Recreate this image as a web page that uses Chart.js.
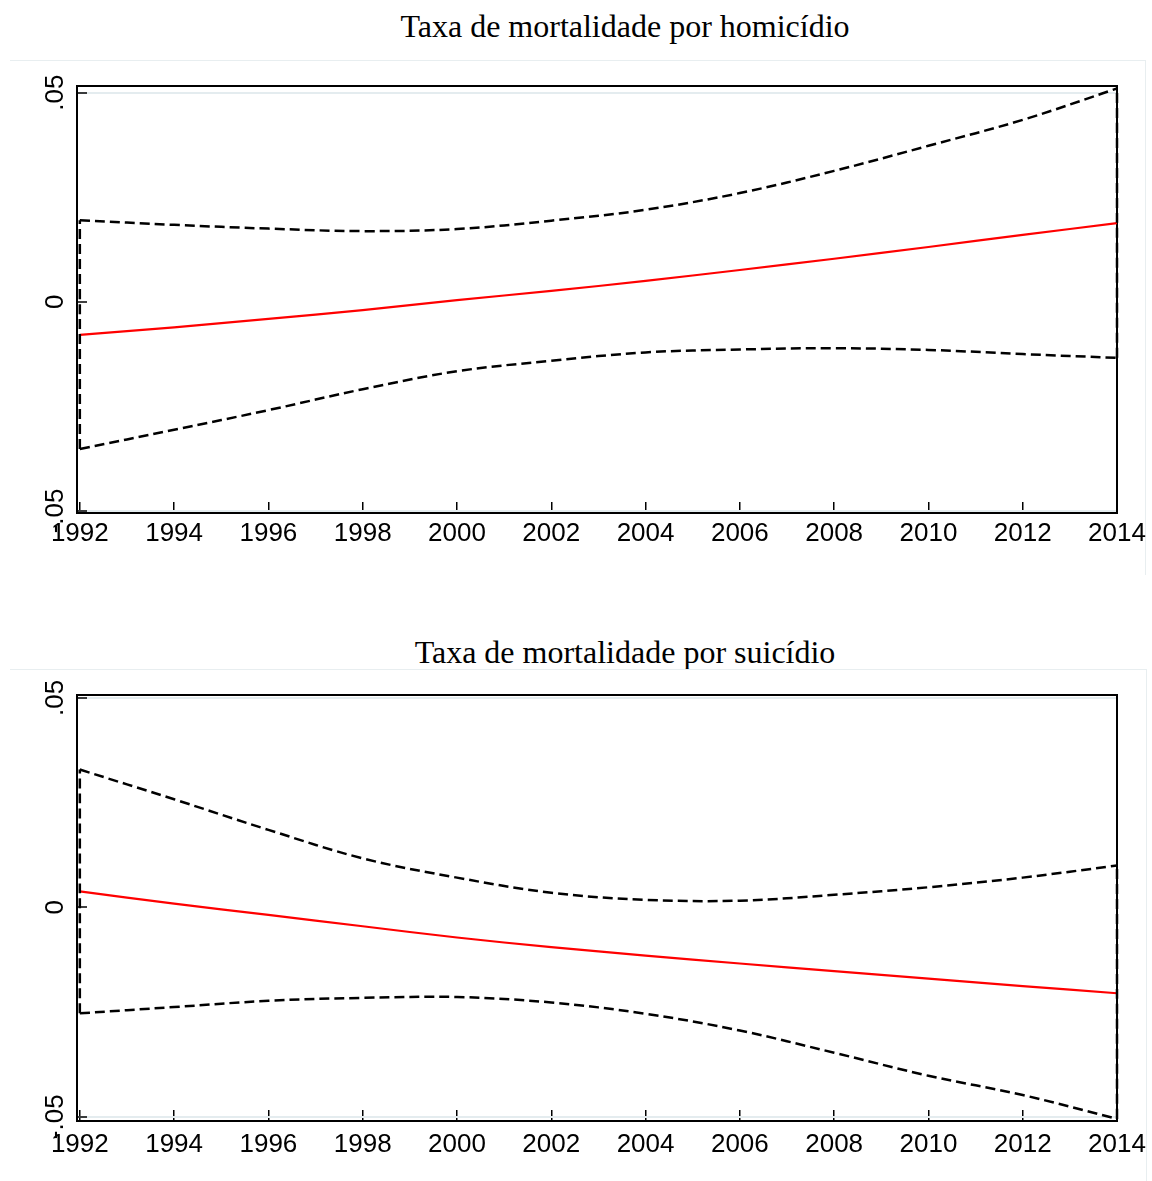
<!DOCTYPE html>
<html>
<head>
<meta charset="utf-8">
<script src="https://cdn.jsdelivr.net/npm/chart.js@4.4.1/dist/chart.umd.min.js"></script>
<style>
  body { margin: 0; background: #fff; width: 1152px; height: 1181px; position: relative; overflow: hidden; }
  .title { position: absolute; left: 0; width: 1250px; text-align: center; line-height: 32px;
           font-family: "Liberation Serif", "Times New Roman", serif; font-size: 32px; color: #000; }
  .frame { position: absolute; border-top: 1px solid #e8eef0; border-right: 1px solid #e8eef0; box-sizing: border-box; }
  .panel { position: absolute; left: 0; width: 1152px; }
</style>
</head>
<body>
<div class="title" style="top:10px">Taxa de mortalidade por homicídio</div>
<div class="frame" style="left:10px; top:60px; width:1136px; height:515px"></div>
<div class="panel" style="top:60px; height:515px"><canvas id="chart1"></canvas></div>

<div class="title" style="top:636px">Taxa de mortalidade por suicídio</div>
<div class="frame" style="left:10px; top:669px; width:1137px; height:512px"></div>
<div class="panel" style="top:669px; height:512px"><canvas id="chart2"></canvas></div>

<script>
const years = [1992, 1994, 1996, 1998, 2000, 2002, 2004, 2006, 2008, 2010, 2012, 2014];

// homicídio
const homEst   = [-0.0079, -0.0061, -0.0041, -0.0020, 0.0004, 0.0026, 0.0050, 0.0076, 0.0103, 0.0131, 0.0160, 0.0188];
const homUpper = [0.0195, 0.0184, 0.0175, 0.0169, 0.0174, 0.0194, 0.0220, 0.0260, 0.0313, 0.0373, 0.0435, 0.0510];
const homLower = [-0.0352, -0.0306, -0.0259, -0.0209, -0.0166, -0.0141, -0.0121, -0.0114, -0.0111, -0.0115, -0.0125, -0.0134];

// suicídio
const suiEst   = [0.0038, 0.0009, -0.0018, -0.0045, -0.0072, -0.0095, -0.0115, -0.0134, -0.0152, -0.0170, -0.0188, -0.0205];
const suiUpper = [0.0329, 0.0258, 0.0185, 0.0117, 0.0071, 0.0035, 0.0018, 0.0016, 0.0030, 0.0048, 0.0071, 0.0100];
const suiLower = [-0.0253, -0.0238, -0.0223, -0.0216, -0.0214, -0.0227, -0.0254, -0.0294, -0.0347, -0.0402, -0.0448, -0.0505];

const xTicks = [1992, 1994, 1996, 1998, 2000, 2002, 2004, 2006, 2008, 2010, 2012, 2014];
const yTicks = [-0.05, 0, 0.05];
const yTickLabels = ['-.05', '0', '.05'];

const tickFont = { family: "'Liberation Sans', Arial, sans-serif", size: 26 };

function toPoints(xs, ys) {
  return xs.map((x, i) => ({ x: x, y: ys[i] }));
}

const frame = {
  id: 'frame',
  beforeDatasetsDraw(chart) {
    const { ctx, chartArea: a } = chart;
    ctx.save();
    ctx.strokeStyle = '#000';
    ctx.lineWidth = 2;
    ctx.strokeRect(a.left, a.top, a.right - a.left, a.bottom - a.top);
    ctx.restore();
  }
};

function dashed(data) {
  return { data: data, borderColor: '#000', borderWidth: 2.5, borderDash: [10, 5], pointRadius: 0, tension: 0.35, fill: false, clip: 4 };
}

function makeChart(id, est, upper, lower, yMin, yMax, axisHeight, labelPad) {
  const first = years[0], last = years[years.length - 1];
  new Chart(document.getElementById(id), {
    type: 'line',
    data: {
      datasets: [
        dashed(toPoints(years, upper)),
        dashed(toPoints(years, lower)),
        dashed([{ x: first, y: lower[0] }, { x: first, y: upper[0] }]),
        dashed([{ x: last, y: lower[lower.length - 1] }, { x: last, y: upper[upper.length - 1] }]),
        { data: toPoints(years, est), borderColor: '#ff0000', borderWidth: 2.2, pointRadius: 0, tension: 0.3, fill: false }
      ]
    },
    options: {
      responsive: true,
      maintainAspectRatio: false,
      animation: false,
      layout: { padding: { top: 26, right: 35, left: 0, bottom: 0 } },
      plugins: { legend: { display: false }, tooltip: { enabled: false } },
      scales: {
        x: {
          type: 'linear',
          min: 1991.94,
          max: 2014,
          afterBuildTicks: s => { s.ticks = xTicks.map(v => ({ value: v })); },
          afterFit: s => { s.height = axisHeight; s.paddingLeft = 0; s.paddingRight = 0; },
          ticks: { autoSkip: false, maxRotation: 0, font: tickFont, color: '#000', padding: labelPad, callback: v => String(v) },
          grid: { drawOnChartArea: false, tickLength: -11, color: '#000', lineWidth: 1.5 },
          border: { display: false }
        },
        y: {
          min: yMin,
          max: yMax,
          afterBuildTicks: s => { s.ticks = yTicks.map(v => ({ value: v })); },
          afterFit: s => { s.width = 77; s.paddingTop = 0; s.paddingBottom = 0; },
          ticks: {
            autoSkip: false, minRotation: 90, maxRotation: 90, crossAlign: 'center', padding: 9,
            font: tickFont, color: '#000',
            callback: v => yTickLabels[yTicks.indexOf(v)]
          },
          grid: {
            color: c => (c.tick && c.tick.value !== 0) ? '#e4ecef' : 'rgba(0,0,0,0)',
            lineWidth: 2, tickColor: '#000', tickWidth: 1.5, tickLength: -10
          },
          border: { display: false }
        }
      }
    },
    plugins: [frame]
  });
}

makeChart('chart1', homEst, homUpper, homLower, -0.0505, 0.0516, 62, 16);
makeChart('chart2', suiEst, suiUpper, suiLower, -0.0510, 0.0507, 60, 19);
</script>
</body>
</html>
